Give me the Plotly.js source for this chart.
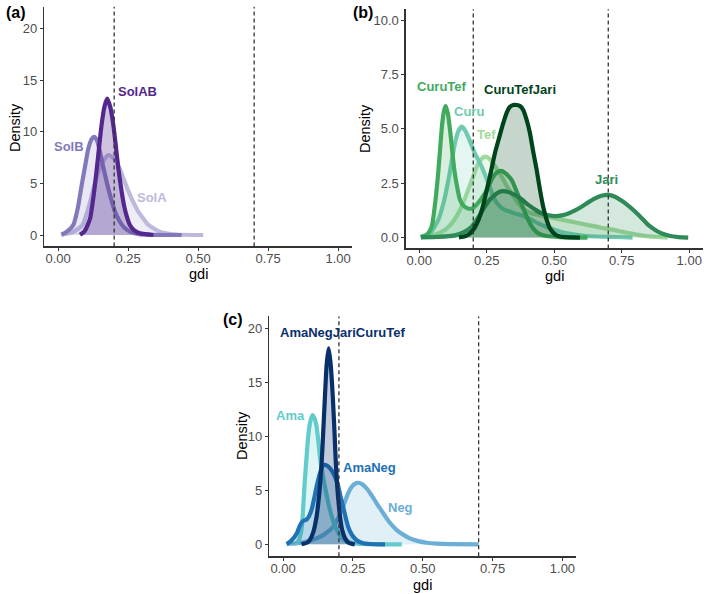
<!DOCTYPE html>
<html>
<head>
<meta charset="utf-8">
<script src="https://cdn.plot.ly/plotly-3.0.1.min.js"></script>
<style>html,body{margin:0;padding:0;background:#fff;}#chart{width:709px;height:594px;}</style>
</head>
<body>
<div id="chart"></div>
<script>
// ---------- Data ----------
const xTickVals = [0, 0.25, 0.5, 0.75, 1];
const xTickText = ["0.00", "0.25", "0.50", "0.75", "1.00"];
const yTicksA = [0, 5, 10, 15, 20];
const yTicksB = [0, 2.5, 5, 7.5, 10];
const yTicksBText = ["0.0", "2.5", "5.0", "7.5", "10.0"];
const yTicksC = [0, 5, 10, 15, 20];
const thresholds = [0.2, 0.7];
const xTitle = "gdi";
const yTitle = "Density";

// Panel (a)
const solA_x = [0.01, 0.05, 0.087, 0.1, 0.114, 0.128, 0.143, 0.16, 0.179, 0.195, 0.209, 0.22, 0.233, 0.25, 0.268, 0.285, 0.304, 0.32, 0.34, 0.36, 0.386, 0.42, 0.518];
const solA_y = [0.02, 0.25, 0.97, 1.9, 3.2, 4.7, 6.1, 7.1, 7.74, 7.5, 7.1, 6.4, 5.5, 4.3, 3.2, 2.3, 1.6, 1.05, 0.65, 0.35, 0.16, 0.05, 0];
const solB_x = [0.0125, 0.03, 0.054, 0.07, 0.084, 0.097, 0.108, 0.12, 0.128, 0.138, 0.149, 0.16, 0.173, 0.188, 0.203, 0.218, 0.233, 0.255, 0.28, 0.31, 0.441];
const solB_y = [0.05, 0.3, 0.97, 2.6, 4.84, 6.8, 8.4, 9.3, 9.5, 9.2, 8.07, 6.7, 5.16, 3.6, 2.26, 1.4, 0.81, 0.35, 0.14, 0.04, 0];
const solAB_x = [0.078, 0.095, 0.114, 0.126, 0.138, 0.147, 0.155, 0.165, 0.175, 0.186, 0.197, 0.206, 0.215, 0.225, 0.235, 0.245, 0.256, 0.272, 0.292, 0.34];
const solAB_y = [0.02, 0.4, 1.6, 3.7, 6.45, 8.7, 10.65, 12.4, 13.2, 12.4, 10.65, 8.6, 6.45, 4.5, 2.9, 1.8, 0.97, 0.45, 0.16, 0];

// Panel (b)
const tef_x = [0.006, 0.05, 0.095, 0.12, 0.144, 0.163, 0.181, 0.198, 0.213, 0.228, 0.243, 0.258, 0.274, 0.29, 0.305, 0.323, 0.342, 0.365, 0.391, 0.415, 0.441, 0.47, 0.503, 0.535, 0.564, 0.595, 0.626, 0.657, 0.688, 0.72, 0.75, 0.78, 0.811, 0.85, 0.92];
const tef_y = [0.02, 0.1, 0.35, 0.65, 1.11, 1.6, 2.19, 2.75, 3.26, 3.58, 3.72, 3.65, 3.41, 3.1, 2.8, 2.4, 2.03, 1.6, 1.27, 1.12, 1.04, 0.96, 0.88, 0.8, 0.73, 0.65, 0.57, 0.5, 0.42, 0.35, 0.27, 0.2, 0.12, 0.05, 0];
const curu_x = [0.006, 0.04, 0.07, 0.09, 0.108, 0.12, 0.132, 0.145, 0.157, 0.169, 0.181, 0.206, 0.231, 0.256, 0.28, 0.3, 0.317, 0.335, 0.354, 0.372, 0.391, 0.415, 0.441, 0.47, 0.503, 0.53, 0.565, 0.62, 0.79];
const curu_y = [0.02, 0.2, 0.8, 1.6, 2.65, 3.5, 4.33, 4.9, 5.1, 4.95, 4.64, 3.87, 3.26, 2.49, 1.73, 1.42, 1.27, 1.2, 1.11, 1.05, 0.96, 0.82, 0.65, 0.5, 0.35, 0.24, 0.16, 0.07, 0];
const curuTef_x = [0.006, 0.03, 0.046, 0.058, 0.07, 0.078, 0.085, 0.092, 0.098, 0.106, 0.114, 0.122, 0.13, 0.14, 0.151, 0.165, 0.181, 0.196, 0.215, 0.243, 0.26, 0.274, 0.288, 0.303, 0.32, 0.342, 0.358, 0.373, 0.39, 0.404, 0.42, 0.441, 0.47, 0.52, 0.623];
const curuTef_y = [0.02, 0.15, 0.5, 1.5, 2.95, 4.2, 5.25, 5.85, 6.05, 5.7, 4.95, 4.0, 3.1, 2.35, 1.73, 1.45, 1.34, 1.34, 1.55, 2.03, 2.45, 2.8, 3.0, 3.07, 2.95, 2.65, 2.2, 1.73, 1.2, 0.8, 0.45, 0.19, 0.07, 0.02, 0];
const jari_x = [0.006, 0.07, 0.132, 0.165, 0.194, 0.22, 0.243, 0.262, 0.28, 0.296, 0.311, 0.333, 0.354, 0.38, 0.404, 0.43, 0.453, 0.48, 0.503, 0.528, 0.552, 0.577, 0.601, 0.626, 0.651, 0.675, 0.698, 0.725, 0.75, 0.775, 0.8, 0.825, 0.849, 0.874, 0.898, 0.93, 0.96, 0.996];
const jari_y = [0.01, 0.03, 0.1, 0.25, 0.5, 0.95, 1.42, 1.75, 1.96, 2.1, 2.14, 2.08, 1.96, 1.75, 1.5, 1.28, 1.11, 1.02, 0.99, 1.02, 1.11, 1.25, 1.42, 1.62, 1.8, 1.92, 1.96, 1.88, 1.69, 1.46, 1.19, 0.88, 0.57, 0.35, 0.19, 0.07, 0.02, 0];
const curuTefJari_x = [0.147, 0.17, 0.188, 0.205, 0.219, 0.235, 0.25, 0.265, 0.28, 0.296, 0.311, 0.324, 0.336, 0.348, 0.361, 0.373, 0.385, 0.398, 0.41, 0.422, 0.435, 0.447, 0.459, 0.471, 0.484, 0.5, 0.515, 0.54, 0.595];
const curuTefJari_y = [0.01, 0.06, 0.19, 0.45, 0.8, 1.4, 2.19, 3.0, 3.87, 4.6, 5.26, 5.75, 6.02, 6.1, 6.1, 6.05, 5.87, 5.4, 4.8, 3.95, 3.1, 2.2, 1.42, 0.85, 0.42, 0.18, 0.07, 0.02, 0];

// Panel (c)
const neg_x = [0.013, 0.05, 0.09, 0.132, 0.157, 0.18, 0.195, 0.21, 0.222, 0.233, 0.245, 0.257, 0.269, 0.284, 0.299, 0.317, 0.335, 0.353, 0.371, 0.389, 0.407, 0.43, 0.454, 0.484, 0.514, 0.55, 0.6, 0.7];
const neg_y = [0.02, 0.1, 0.3, 0.7, 1.1, 1.63, 2.3, 3.18, 4.0, 4.72, 5.3, 5.6, 5.7, 5.55, 5.18, 4.55, 3.8, 3.1, 2.4, 1.8, 1.32, 0.9, 0.55, 0.3, 0.15, 0.06, 0.02, 0];
const ama_x = [0.04, 0.05, 0.058, 0.066, 0.072, 0.078, 0.084, 0.09, 0.097, 0.105, 0.112, 0.12, 0.126, 0.132, 0.141, 0.15, 0.159, 0.168, 0.18, 0.192, 0.21, 0.228, 0.26, 0.3, 0.425];
const ama_y = [0.02, 0.15, 0.5, 1.32, 3.3, 5.95, 8.0, 9.96, 11.3, 11.97, 11.7, 10.9, 9.6, 8.1, 6.6, 5.33, 4.2, 3.18, 2.1, 1.32, 0.6, 0.25, 0.08, 0.02, 0];
const amaNeg_x = [0.013, 0.03, 0.049, 0.058, 0.066, 0.075, 0.084, 0.093, 0.102, 0.111, 0.12, 0.132, 0.144, 0.153, 0.162, 0.171, 0.18, 0.189, 0.198, 0.206, 0.215, 0.224, 0.233, 0.245, 0.257, 0.272, 0.287, 0.31, 0.365];
const amaNeg_y = [0.02, 0.35, 1.0, 1.6, 2.0, 2.2, 2.3, 2.6, 3.18, 4.2, 5.33, 6.57, 7.34, 7.35, 7.2, 6.95, 6.57, 6.05, 5.33, 4.4, 3.48, 2.5, 1.63, 0.95, 0.55, 0.25, 0.1, 0.03, 0];
const amaNegJariCuruTef_x = [0.066, 0.085, 0.096, 0.108, 0.12, 0.13, 0.138, 0.144, 0.15, 0.156, 0.163, 0.17, 0.178, 0.184, 0.189, 0.196, 0.204, 0.212, 0.222, 0.235, 0.257];
const amaNegJariCuruTef_y = [0.02, 0.15, 0.4, 1.1, 2.56, 4.8, 7.5, 10.5, 13.7, 16.6, 18.15, 16.8, 13.7, 10.5, 7.5, 4.7, 2.56, 1.3, 0.55, 0.15, 0];

// ---------- Series definitions (drawing order) ----------
const series = [
  {name: "SolA", x: solA_x, y: solA_y, ax: 1, color: "#bcb9dc", fill: "rgba(188,185,220,0.25)", lx: 0.335, ly: 3.6},
  {name: "SolB", x: solB_x, y: solB_y, ax: 1, color: "#8279bb", fill: "rgba(130,121,187,0.18)", lx: 0.04, ly: 8.6},
  {name: "SolAB", x: solAB_x, y: solAB_y, ax: 1, color: "#54278f", fill: "rgba(84,39,143,0.28)", lx: 0.283, ly: 13.9},
  {name: "Tef", x: tef_x, y: tef_y, ax: 2, color: "#a1d99b", fill: "rgba(161,217,155,0.22)", lx: 0.248, ly: 4.72},
  {name: "Curu", x: curu_x, y: curu_y, ax: 2, color: "#6fcab0", fill: "rgba(111,202,176,0.18)", lx: 0.183, ly: 5.79},
  {name: "CuruTef", x: curuTef_x, y: curuTef_y, ax: 2, color: "#41ab5d", fill: "rgba(65,171,93,0.2)", lx: 0.083, ly: 6.94},
  {name: "Jari", x: jari_x, y: jari_y, ax: 2, color: "#2e8b57", fill: "rgba(46,139,87,0.2)", lx: 0.694, ly: 2.65},
  {name: "CuruTefJari", x: curuTefJari_x, y: curuTefJari_y, ax: 2, color: "#00441b", fill: "rgba(0,68,27,0.22)", lx: 0.373, ly: 6.79},
  {name: "Neg", x: neg_x, y: neg_y, ax: 3, color: "#6baed6", fill: "rgba(107,174,214,0.2)", lx: 0.422, ly: 3.39},
  {name: "Ama", x: ama_x, y: ama_y, ax: 3, color: "#62cbcb", fill: "rgba(98,203,203,0.2)", lx: 0.025, ly: 11.9},
  {name: "AmaNeg", x: amaNeg_x, y: amaNeg_y, ax: 3, color: "#2171b5", fill: "rgba(33,113,181,0.22)", lx: 0.311, ly: 7.1},
  {name: "AmaNegJariCuruTef", x: amaNegJariCuruTef_x, y: amaNegJariCuruTef_y, ax: 3, color: "#08306b", fill: "rgba(8,48,107,0.25)", lx: 0.213, ly: 19.6}
];

const FONT = "Liberation Sans, Arial, Helvetica, sans-serif";
const axSuffix = n => (n === 1 ? "" : String(n));

const traces = series.map(s => ({
  type: "scatter", mode: "lines", name: s.name,
  x: s.x, y: s.y,
  xaxis: "x" + axSuffix(s.ax), yaxis: "y" + axSuffix(s.ax),
  line: {color: s.color, width: 4.2, shape: "spline", smoothing: 0.6},
  fill: "tozeroy", fillcolor: s.fill,
  hoverinfo: "skip", showlegend: false
}));

const annotations = series.map(s => ({
  text: "<b>" + s.name + "</b>", x: s.lx, y: s.ly,
  xref: "x" + axSuffix(s.ax), yref: "y" + axSuffix(s.ax),
  showarrow: false, font: {family: FONT, size: 13, color: s.color},
  xanchor: "center", yanchor: "middle"
}));

// Panel tags and axis titles placed in page pixels
const px = (x, y) => ({x: x / 709, y: 1 - y / 594});
const panelLabels = [
  {text: "(a)", x: 4, y: 13},
  {text: "(b)", x: 351, y: 12},
  {text: "(c)", x: 221, y: 319}
];
panelLabels.forEach(p => annotations.push(Object.assign({
  text: "<b>" + p.text + "</b>", xref: "paper", yref: "paper", showarrow: false,
  xanchor: "left", yanchor: "middle", font: {family: FONT, size: 16, color: "#000"}
}, px(p.x, p.y))));

const axisTitles = [
  {x: 198, y: 274, t: xTitle, rot: 0},
  {x: 15, y: 127, t: yTitle, rot: -90},
  {x: 554, y: 276, t: xTitle, rot: 0},
  {x: 365, y: 129, t: yTitle, rot: -90},
  {x: 422, y: 585, t: xTitle, rot: 0},
  {x: 242, y: 436, t: yTitle, rot: -90}
];
axisTitles.forEach(a => annotations.push(Object.assign({
  text: a.t, xref: "paper", yref: "paper", showarrow: false, textangle: a.rot,
  xanchor: "center", yanchor: "middle", font: {family: FONT, size: 14.5, color: "#000"}
}, px(a.x, a.y))));

const shapes = [];
[1, 2, 3].forEach(n => thresholds.forEach(t => shapes.push({
  type: "line", xref: "x" + axSuffix(n), yref: "y" + axSuffix(n) + " domain",
  x0: t, x1: t, y0: 0, y1: 1,
  line: {color: "#333333", width: 1.3, dash: "4px,3px"}
})));

function xAxis(domain, anchor) {
  return {
    domain: domain, anchor: anchor, range: [-0.05, 1.05],
    tickmode: "array", tickvals: xTickVals, ticktext: xTickText,
    showline: true, linecolor: "#333333", linewidth: 1.3,
    ticks: "outside", ticklen: 3, tickcolor: "#333333", tickwidth: 1,
    ticklabelstandoff: -3,
    showgrid: false, zeroline: false,
    tickfont: {family: FONT, size: 13, color: "#4d4d4d"},
    automargin: false, fixedrange: true
  };
}
function yAxis(domain, anchor, range, vals, text) {
  return {
    domain: domain, anchor: anchor, range: range,
    tickmode: "array", tickvals: vals, ticktext: text,
    showline: true, linecolor: "#333333", linewidth: 1.3,
    ticks: "outside", ticklen: 3, tickcolor: "#333333", tickwidth: 1,
    showgrid: false, zeroline: false,
    tickfont: {family: FONT, size: 13, color: "#4d4d4d"},
    automargin: false, fixedrange: true
  };
}

const layout = {
  width: 709, height: 594,
  margin: {l: 0, r: 0, t: 0, b: 0},
  paper_bgcolor: "#ffffff", plot_bgcolor: "#ffffff",
  showlegend: false,
  font: {family: FONT},
  xaxis: xAxis([0.0623, 0.4967], "y"),
  yaxis: yAxis([0.5852, 0.9887], "x", [-1.1, 22.1], yTicksA, yTicksA.map(String)),
  xaxis2: xAxis([0.5723, 0.9912], "y2"),
  yaxis2: yAxis([0.5818, 0.9843], "x2", [-0.5, 10.5], yTicksB, yTicksBText),
  xaxis3: xAxis([0.3795, 0.8130], "y3"),
  yaxis3: yAxis([0.0636, 0.4673], "x3", [-1.1, 21.1], yTicksC, yTicksC.map(String)),
  shapes: shapes,
  annotations: annotations
};

Plotly.newPlot("chart", traces, layout, {displayModeBar: false, staticPlot: true});
</script>
</body>
</html>
